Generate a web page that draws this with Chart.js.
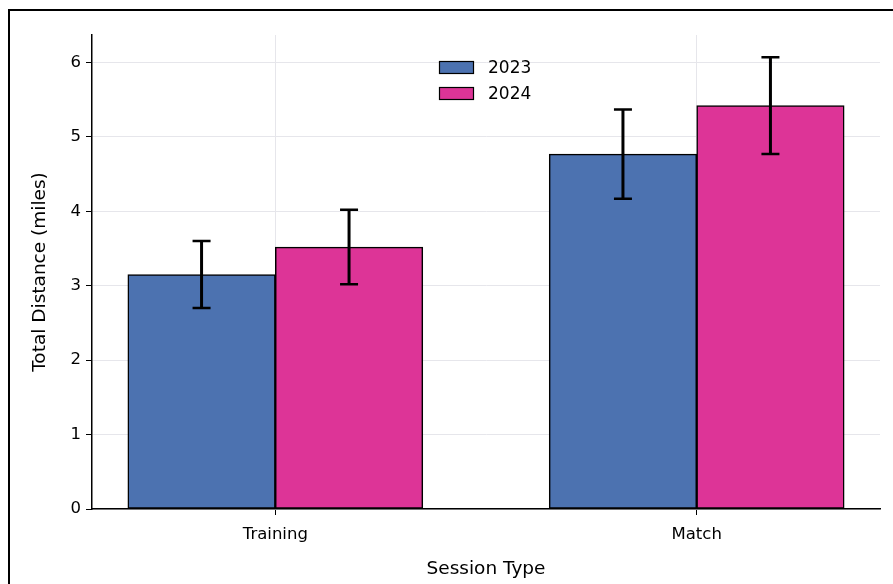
<!DOCTYPE html>
<html>
<head>
<meta charset="utf-8">
<script src="https://cdn.jsdelivr.net/npm/chart.js@4.4.1/dist/chart.umd.min.js"></script>
<style>
  html, body { margin: 0; padding: 0; background: #ffffff; }
  #wrap { position: relative; width: 893px; height: 584px; overflow: hidden; }
  canvas { display: block; }
</style>
</head>
<body>
<div id="wrap"><canvas id="c" width="893" height="584"></canvas></div>
<script>
// Session categories and yearly totals (miles), with error half-widths
const categories = ['Training', 'Match'];
const years = ['2023', '2024'];
const values2023 = [3.15, 4.77];
const values2024 = [3.52, 5.42];
const errors2023 = [0.45, 0.60];
const errors2024 = [0.50, 0.65];
const yTicks = [0, 1, 2, 3, 4, 5, 6];

const colors = ['#4c72b0', '#dd3497'];
const barWidth = 0.35;
const FONT = '"DejaVu Sans", "Liberation Sans", sans-serif';
const GRID = '#e6e6eb';

function points(vals, shift) {
  return vals.map((v, i) => ({ x: i + shift, y: v }));
}

const seriesVals = [values2023, values2024];
const seriesErr = [errors2023, errors2024];

// Error bars with caps, drawn over the bars
const errorBars = {
  id: 'errorBars',
  afterDatasetsDraw(chart) {
    const ctx = chart.ctx;
    const y = chart.scales.y;
    ctx.save();
    ctx.strokeStyle = '#000';
    chart.data.datasets.forEach((ds, di) => {
      const meta = chart.getDatasetMeta(di);
      meta.data.forEach((bar, i) => {
        const v = seriesVals[di][i], e = seriesErr[di][i];
        const yt = y.getPixelForValue(v + e), yb = y.getPixelForValue(v - e);
        const x = bar.x;
        ctx.lineWidth = 3;
        ctx.beginPath(); ctx.moveTo(x, yt); ctx.lineTo(x, yb); ctx.stroke();
        ctx.lineWidth = 2.5;
        ctx.beginPath();
        ctx.moveTo(x - 9, yt); ctx.lineTo(x + 9, yt);
        ctx.moveTo(x - 9, yb); ctx.lineTo(x + 9, yb);
        ctx.stroke();
      });
    });
    ctx.restore();
  }
};

// Legend inside the plot and the outer figure frame
const decorations = {
  id: 'decorations',
  afterDraw(chart) {
    const ctx = chart.ctx;
    ctx.save();
    years.forEach((yr, i) => {
      const top = 61 + i * 26;
      ctx.fillStyle = colors[i];
      ctx.fillRect(439, top, 35, 13);
      ctx.lineWidth = 1.2;
      ctx.strokeStyle = '#000';
      ctx.strokeRect(439.5, top + 0.5, 34, 12);
      ctx.fillStyle = '#000';
      ctx.font = '17px ' + FONT;
      ctx.textBaseline = 'middle';
      ctx.textAlign = 'left';
      ctx.fillText(yr, 488, top + 8);
    });
    ctx.lineWidth = 2;
    ctx.strokeStyle = '#000';
    ctx.strokeRect(9, 10, 900, 600);
    ctx.restore();
  }
};

new Chart(document.getElementById('c'), {
  type: 'bar',
  data: {
    datasets: years.map((yr, i) => ({
      label: yr,
      data: points(seriesVals[i], (i === 0 ? -1 : 1) * barWidth / 2),
      backgroundColor: colors[i],
      borderColor: '#000',
      borderWidth: 1.5,
      borderSkipped: false,
      barPercentage: 1,
      categoryPercentage: 1
    }))
  },
  options: {
    responsive: false,
    animation: false,
    devicePixelRatio: 1,
    layout: { padding: { left: 25, top: 35, right: 13, bottom: 0 } },
    plugins: { legend: { display: false }, tooltip: { enabled: false } },
    scales: {
      x: {
        type: 'linear',
        stacked: true,
        offset: false,
        min: -0.435,
        max: 1.435,
        afterBuildTicks(s) { s.ticks = categories.map((c, i) => ({ value: i })); },
        afterFit(s) { s.height = 75; },
        ticks: {
          callback: (v) => categories[v] ?? '',
          color: '#000',
          font: { family: FONT, size: 16.5 },
          padding: 10,
          maxRotation: 0
        },
        grid: { color: GRID, lineWidth: 1, tickColor: '#000', tickLength: 6, offset: false, drawOnChartArea: true },
        border: { color: '#000', width: 1.5 },
        title: {
          display: true,
          text: 'Session Type',
          color: '#000',
          font: { family: FONT, size: 18.5 },
          padding: { top: 4 }
        }
      },
      y: {
        min: 0,
        max: 6.37,
        afterBuildTicks(s) { s.ticks = yTicks.map(v => ({ value: v })); },
        afterFit(s) { s.width = 67; },
        ticks: {
          color: '#000',
          font: { family: FONT, size: 16.5 },
          padding: 5
        },
        grid: { color: GRID, lineWidth: 1, tickColor: '#000', tickLength: 6 },
        border: { color: '#000', width: 1.5 },
        title: {
          display: true,
          text: 'Total Distance (miles)',
          color: '#000',
          font: { family: FONT, size: 18.5 },
          padding: { top: 4, bottom: 4 }
        }
      }
    }
  },
  plugins: [errorBars, decorations]
});
</script>
</body>
</html>
